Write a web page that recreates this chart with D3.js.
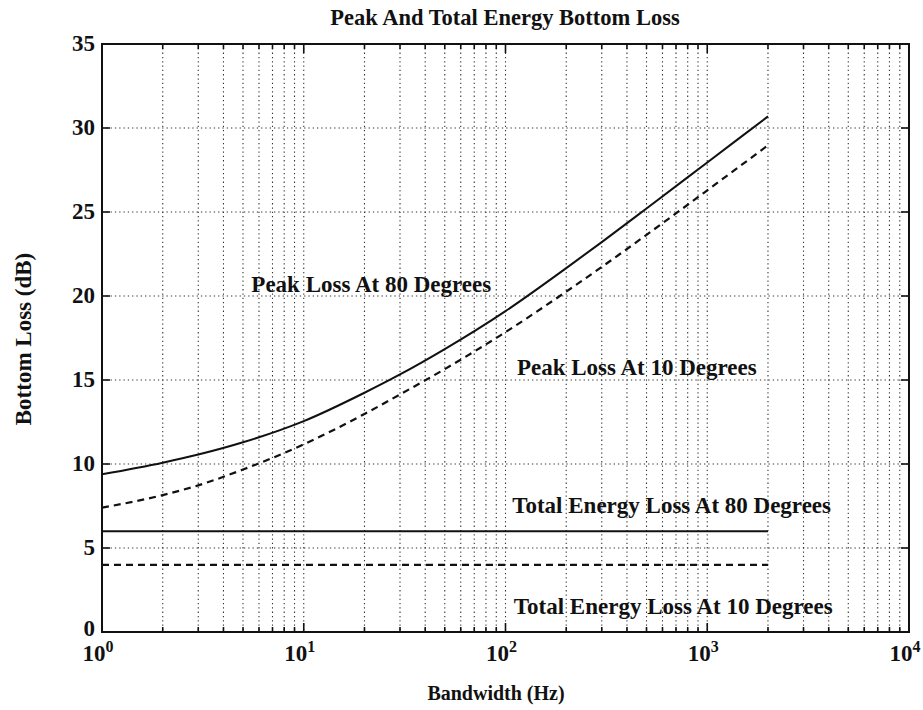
<!DOCTYPE html>
<html><head><meta charset="utf-8">
<script src="https://cdn.jsdelivr.net/npm/d3@7"></script>
<style>
html,body{margin:0;padding:0;background:#fff;}
svg text{font-family:"Liberation Serif","DejaVu Serif",serif;fill:#111;}
</style></head>
<body><svg id="chart" width="923" height="710"></svg>
<script>
const freqs = [1, 2, 3, 5, 10, 20, 30, 50, 100, 200, 300, 500, 1000, 2000];
const peakLoss80 = [9.39, 10.08, 10.56, 11.29, 12.55, 14.24, 15.33, 16.84, 19.10, 21.66, 23.21, 25.21, 27.95, 30.69];
const peakLoss10 = [7.40, 8.15, 8.73, 9.67, 11.17, 12.98, 14.14, 15.65, 17.85, 20.26, 21.73, 23.64, 26.29, 28.97];
const totalFreqs = [1, 2000];
const totalLoss80 = [6.0, 6.0];
const totalLoss10 = [4.0, 4.0];
const yTicks = [0, 5, 10, 15, 20, 25, 30, 35];
const xDecades = [0, 1, 2, 3, 4];
const labels = [
  {text: "Peak Loss At 80 Degrees", f: 5.5, v: 20.25},
  {text: "Peak Loss At 10 Degrees", f: 114, v: 15.3},
  {text: "Total Energy Loss At 80 Degrees", f: 108, v: 7.1},
  {text: "Total Energy Loss At 10 Degrees", f: 110, v: 1.1}
];

const svg = d3.select("#chart");
const L = 102, R = 909, T = 44, B = 632;
const x = d3.scaleLog().domain([1, 10000]).range([L, R]);
const y = d3.scaleLinear().domain([0, 35]).range([B, T]);

const xAll = [];
for (let d = 0; d < 4; d++) for (let m = 1; m <= 9; m++) xAll.push(m * Math.pow(10, d));
xAll.push(10000);

const grid = svg.append("g").attr("stroke", "#333").attr("stroke-width", 1.1)
  .attr("stroke-dasharray", "1.3,3");
xAll.filter(v => v > 1 && v < 10000).forEach(v => {
  grid.append("line").attr("x1", x(v)).attr("x2", x(v)).attr("y1", T).attr("y2", B);
});
yTicks.filter(v => v > 0 && v < 35).forEach(v => {
  grid.append("line").attr("x1", L).attr("x2", R).attr("y1", y(v)).attr("y2", y(v));
});

const ticks = svg.append("g").attr("stroke", "#111").attr("stroke-width", 1.6);
xAll.forEach(v => {
  const major = Math.abs(Math.log10(v) - Math.round(Math.log10(v))) < 1e-9;
  const len = major ? 9 : 5;
  ticks.append("line").attr("x1", x(v)).attr("x2", x(v)).attr("y1", B).attr("y2", B - len);
  ticks.append("line").attr("x1", x(v)).attr("x2", x(v)).attr("y1", T).attr("y2", T + len);
});
yTicks.forEach(v => {
  ticks.append("line").attr("x1", L).attr("x2", L + 8).attr("y1", y(v)).attr("y2", y(v));
  ticks.append("line").attr("x1", R).attr("x2", R - 8).attr("y1", y(v)).attr("y2", y(v));
});

svg.append("rect").attr("x", L).attr("y", T).attr("width", R - L).attr("height", B - T)
  .attr("fill", "none").attr("stroke", "#111").attr("stroke-width", 2);

svg.append("g").selectAll("text").data(yTicks).join("text")
  .attr("x", L - 7).attr("y", d => y(d) + (d === 0 ? 4 : 7)).attr("text-anchor", "end")
  .attr("font-size", 23).attr("font-weight", "bold").text(d => d);

const xl = svg.append("g");
xDecades.forEach(n => {
  const t = xl.append("text").attr("x", x(Math.pow(10, n)) - 4).attr("y", 661)
    .attr("text-anchor", "middle").attr("font-size", 23).attr("font-weight", "bold");
  t.append("tspan").text("10");
  t.append("tspan").attr("dy", -9).attr("font-size", 16).text(n);
});

const line = d3.line().x(d => x(d[0])).y(d => y(d[1])).curve(d3.curveMonotoneX);
const zip = (a, b) => a.map((v, i) => [v, b[i]]);
svg.append("path").datum(zip(freqs, peakLoss80)).attr("d", line)
  .attr("fill", "none").attr("stroke", "#111").attr("stroke-width", 2);
svg.append("path").datum(zip(freqs, peakLoss10)).attr("d", line)
  .attr("fill", "none").attr("stroke", "#111").attr("stroke-width", 2.2).attr("stroke-dasharray", "7,5");
svg.append("path").datum(zip(totalFreqs, totalLoss80)).attr("d", line)
  .attr("fill", "none").attr("stroke", "#111").attr("stroke-width", 2);
svg.append("path").datum(zip(totalFreqs, totalLoss10)).attr("d", line)
  .attr("fill", "none").attr("stroke", "#111").attr("stroke-width", 2.2).attr("stroke-dasharray", "7,5");

svg.append("g").selectAll("text").data(labels).join("text")
  .attr("x", d => x(d.f)).attr("y", d => y(d.v))
  .attr("font-size", 23).attr("font-weight", "bold").text(d => d.text);

svg.append("text").attr("x", 505).attr("y", 25).attr("text-anchor", "middle")
  .attr("font-size", 22.5).attr("font-weight", "bold").text("Peak And Total Energy Bottom Loss");
svg.append("text").attr("x", 496).attr("y", 700).attr("text-anchor", "middle")
  .attr("font-size", 20).attr("font-weight", "bold").text("Bandwidth (Hz)");
svg.append("text").attr("transform", "translate(31,339) rotate(-90)").attr("text-anchor", "middle")
  .attr("font-size", 23).attr("font-weight", "bold").text("Bottom Loss (dB)");
</script></body></html>
